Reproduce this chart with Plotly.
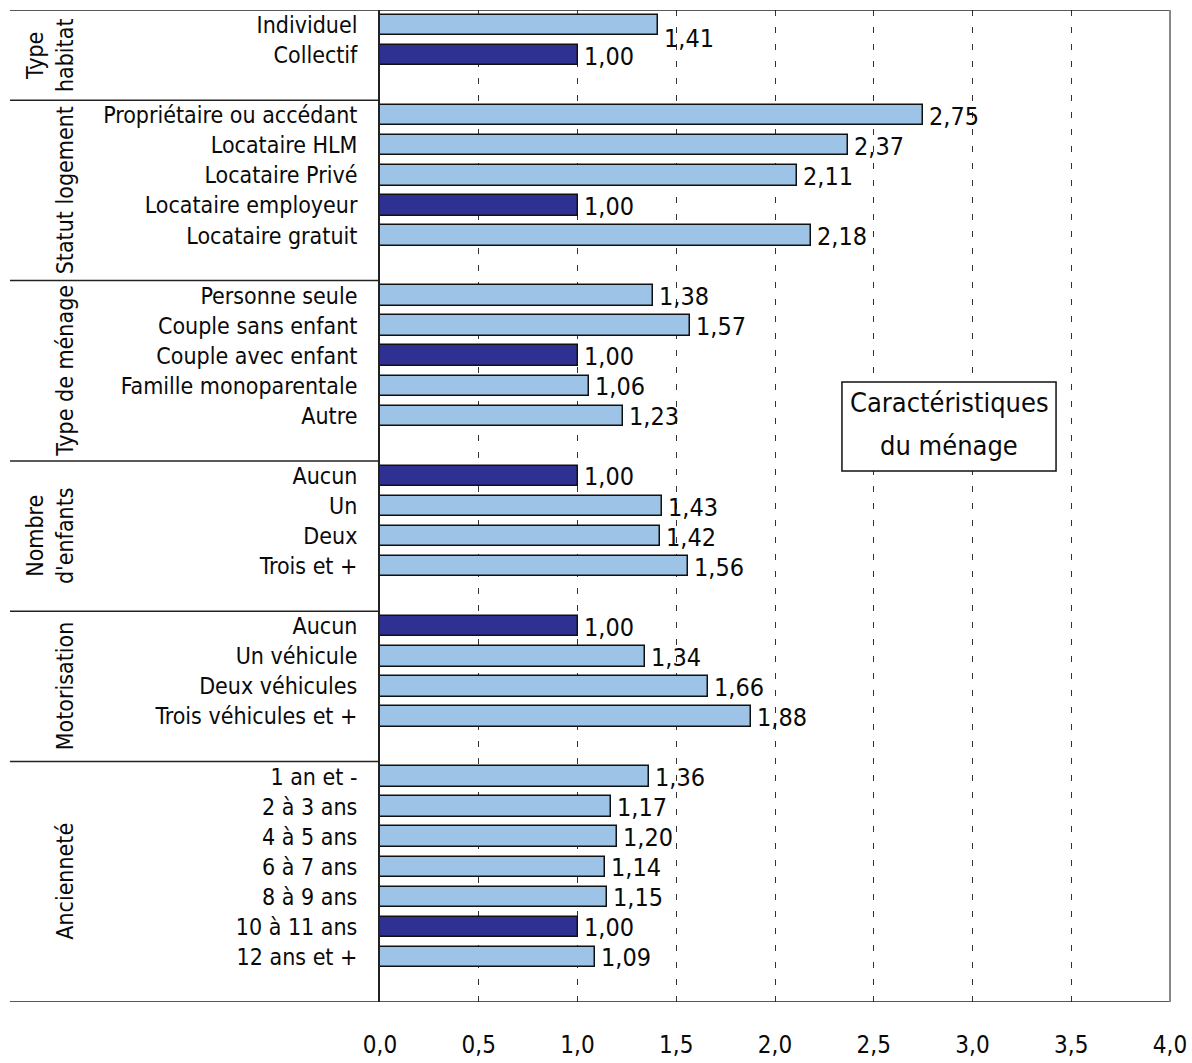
import plotly.graph_objects as go

# Odds ratios by household characteristic (reference category = 1,00)
groups = ["Type<br>habitat", "Statut logement", "Type de ménage",
          "Nombre<br>d'enfants", "Motorisation", "Ancienneté"]

type_habitat = ["Individuel", "Collectif"]
type_habitat_val = [1.41, 1.00]

statut_logement = ["Propriétaire ou accédant", "Locataire HLM", "Locataire Privé",
                   "Locataire employeur", "Locataire gratuit"]
statut_logement_val = [2.75, 2.37, 2.11, 1.00, 2.18]

type_menage = ["Personne seule", "Couple sans enfant", "Couple avec enfant",
               "Famille monoparentale", "Autre"]
type_menage_val = [1.38, 1.57, 1.00, 1.06, 1.23]

nombre_enfants = ["Aucun", "Un", "Deux", "Trois et +"]
nombre_enfants_val = [1.00, 1.43, 1.42, 1.56]

motorisation = ["Aucun", "Un véhicule", "Deux véhicules", "Trois véhicules et +"]
motorisation_val = [1.00, 1.34, 1.66, 1.88]

anciennete = ["1 an et -", "2 à 3 ans", "4 à 5 ans", "6 à 7 ans",
              "8 à 9 ans", "10 à 11 ans", "12 ans et +"]
anciennete_val = [1.36, 1.17, 1.20, 1.14, 1.15, 1.00, 1.09]

x_ticks = [0.0, 0.5, 1.0, 1.5, 2.0, 2.5, 3.0, 3.5, 4.0]

box_title = ["Caractéristiques", "du ménage"]

categories = [type_habitat, statut_logement, type_menage,
              nombre_enfants, motorisation, anciennete]
values = [type_habitat_val, statut_logement_val, type_menage_val,
          nombre_enfants_val, motorisation_val, anciennete_val]

LIGHT = "#9DC3E6"
DARK = "#2E3192"
FONT = "DejaVu Sans Condensed, Liberation Sans Narrow, Arial Narrow, sans-serif"
INK = "#0a0a0a"

# Lay out one slot per category, with an empty slot after each group
labels, vals, pos, bounds = [], [], [], [-0.5]
slot = 0
for cats, vs in zip(categories, values):
    for c, v in zip(cats, vs):
        labels.append(c)
        vals.append(v)
        pos.append(slot)
        slot += 1
    slot += 1
    bounds.append(slot - 0.5)
n_slots = slot

colors = [DARK if v == 1.0 else LIGHT for v in vals]

fig = go.Figure(go.Bar(
    x=vals, y=pos, orientation="h", width=0.68,
    marker=dict(color=colors, line=dict(color="#111111", width=1.5)),
    hoverinfo="skip",
))

# Value labels to the right of each bar
for i, (v, p) in enumerate(zip(vals, pos)):
    fig.add_annotation(
        x=v, y=p, xref="x", yref="y", text=f"{v:.2f}".replace(".", ","),
        showarrow=False, xanchor="left", yanchor="middle",
        xshift=4, yshift=-13 if i == 0 else -1,
        font=dict(family=FONT, size=25, color=INK),
    )

# Group titles, rotated, in the left-hand column
LEFT = -370 / 790  # paper x of the left edge of the label column
for g, (b0, b1) in zip(groups, zip(bounds[:-1], bounds[1:])):
    fig.add_annotation(
        x=-300 / 790, y=(b0 + b1) / 2, xref="paper", yref="y",
        text=g, textangle=-90, showarrow=False,
        xanchor="right", yanchor="middle", align="center",
        font=dict(family=FONT, size=23, color=INK),
    )

# Group separators across the label column, plus top and bottom frame lines
for k, b in enumerate(bounds):
    x1 = 1 if k in (0, len(bounds) - 1) else 0
    fig.add_shape(type="line", xref="paper", yref="y",
                  x0=LEFT, x1=x1, y0=b, y1=b,
                  line=dict(color="#222222", width=1.5))

# Right frame line
fig.add_shape(type="line", xref="paper", yref="y", x0=1, x1=1,
              y0=bounds[0], y1=bounds[-1], line=dict(color="#888888", width=2))

# Boxed caption
fig.add_shape(type="rect", xref="x", yref="y", x0=2.339, x1=3.423,
              y0=11.875, y1=14.836, line=dict(color="#111111", width=1.5),
              fillcolor="white", layer="above")
for t, yy in zip(box_title, [12.57, 14.0]):
    fig.add_annotation(x=2.881, y=yy, xref="x", yref="y", text=t,
                       showarrow=False, xanchor="center", yanchor="middle",
                       font=dict(family=FONT, size=27, color=INK))

fig.update_layout(
    width=1192, height=1063,
    margin=dict(l=380, r=22, t=10, b=61, autoexpand=False),
    paper_bgcolor="white", plot_bgcolor="white",
    separators=", ",
    showlegend=False,
    bargap=0,
    font=dict(family=FONT, color=INK),
    xaxis=dict(
        range=[0, 4], tickvals=x_ticks, tickformat=".1f",
        showgrid=True, gridcolor="#333333", gridwidth=1, griddash="6px,11px",
        zeroline=False, showline=False, automargin=False,
        ticks="outside", ticklen=21, tickcolor="rgba(0,0,0,0)",
        tickfont=dict(family=FONT, size=24, color=INK),
    ),
    yaxis=dict(
        range=[n_slots - 0.5, -0.5], tickvals=pos, ticktext=labels,
        showgrid=False, zeroline=False, automargin=False,
        showline=True, linecolor="#222222", linewidth=2,
        ticks="outside", ticklen=16, tickcolor="rgba(0,0,0,0)",
        tickfont=dict(family=FONT, size=23, color=INK),
    ),
)

fig.write_html("out.html")
